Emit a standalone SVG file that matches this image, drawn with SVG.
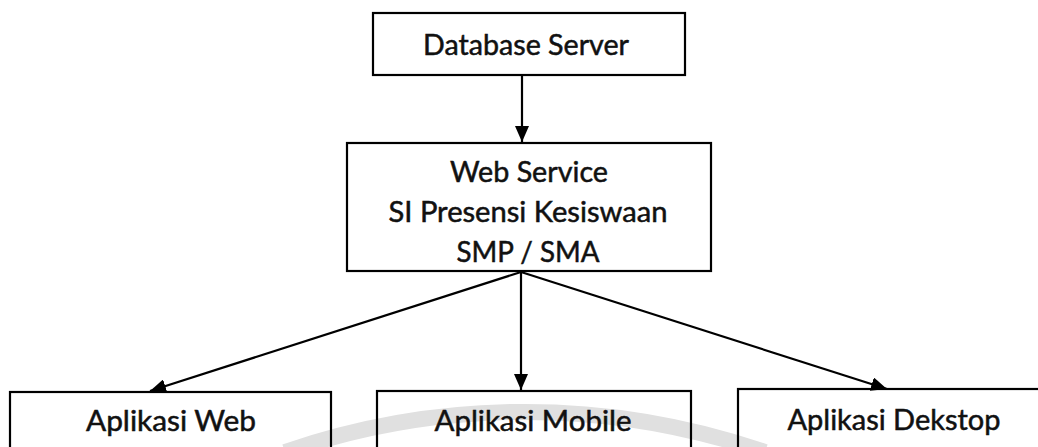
<svg xmlns="http://www.w3.org/2000/svg" width="1038" height="447" viewBox="0 0 1038 447">
  <style>
    .box { fill: none; stroke: #000; stroke-width: 2.2; }
    .lbl { font-family: Lato, "Open Sans", "Liberation Sans", sans-serif; font-size: 28px; fill: #111; stroke: #111; stroke-width: 0.5; text-anchor: middle; }
    .link { stroke: #000; stroke-width: 2.2; fill: none; }
    .mark { fill: none; stroke: #e0e0e0; stroke-width: 16; }
  </style>
  <defs>
    <marker id="head" viewBox="0 0 16 14" refX="16" refY="7" markerWidth="16" markerHeight="14" markerUnits="userSpaceOnUse" orient="auto">
      <path d="M0,0 L16,7 L0,14 Z" fill="#000"/>
    </marker>
  </defs>
  <rect width="1038" height="447" fill="#fff"/>

  <!-- faint background watermark arc -->
  <path class="mark" d="M285,452 A738,738 0 0 1 765,452"/>

  <g id="connectors">
    <line class="link" x1="522" y1="76" x2="522" y2="142" marker-end="url(#head)"/>
    <line class="link" x1="521" y1="272" x2="150" y2="391" marker-end="url(#head)"/>
    <line class="link" x1="521" y1="272" x2="521" y2="390" marker-end="url(#head)"/>
    <line class="link" x1="521" y1="272" x2="887" y2="389" marker-end="url(#head)"/>
  </g>

  <g id="database-server">
    <rect class="box" x="373" y="13" width="312" height="62"/>
    <text class="lbl" x="526" y="55" textLength="206" lengthAdjust="spacingAndGlyphs">Database Server</text>
  </g>

  <g id="web-service">
    <rect class="box" x="347" y="143" width="364" height="128"/>
    <text class="lbl" x="529" y="182" textLength="158" lengthAdjust="spacingAndGlyphs">Web Service</text>
    <text class="lbl" x="528" y="222" textLength="279" lengthAdjust="spacingAndGlyphs">SI Presensi Kesiswaan</text>
    <text class="lbl" x="528" y="262" textLength="143" lengthAdjust="spacingAndGlyphs">SMP / SMA</text>
  </g>

  <g id="aplikasi-web">
    <rect class="box" x="10" y="392" width="321" height="70"/>
    <text class="lbl" x="171" y="431" textLength="170" lengthAdjust="spacingAndGlyphs">Aplikasi Web</text>
  </g>

  <g id="aplikasi-mobile">
    <rect class="box" x="377" y="391" width="314" height="70"/>
    <text class="lbl" x="533" y="431" textLength="197" lengthAdjust="spacingAndGlyphs">Aplikasi Mobile</text>
  </g>

  <g id="aplikasi-dekstop">
    <rect class="box" x="738" y="389" width="320" height="70"/>
    <text class="lbl" x="894" y="430" textLength="213" lengthAdjust="spacingAndGlyphs">Aplikasi Dekstop</text>
  </g>
</svg>
